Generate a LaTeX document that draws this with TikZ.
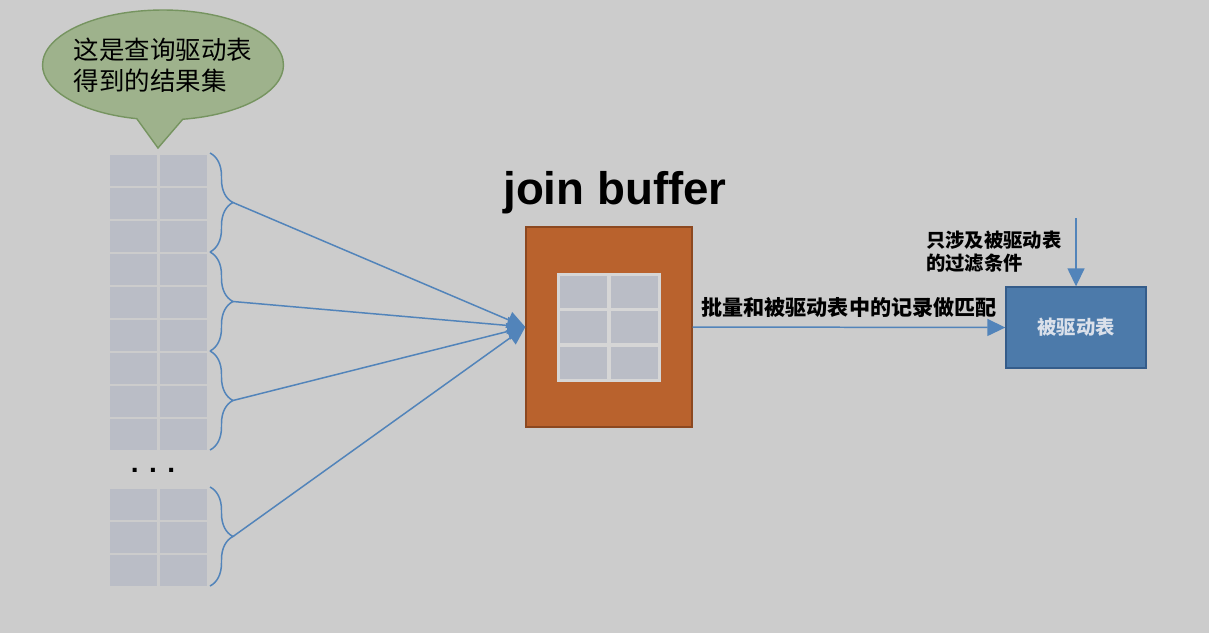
\documentclass[tikz,border=0pt]{standalone}
\usepackage{fontspec}
\setmainfont{Liberation Sans}
\newfontfamily\cjk{Noto Sans CJK SC}
\usetikzlibrary{shapes,shapes.callouts,positioning,arrows.meta,decorations.pathreplacing}

\definecolor{bggray}{RGB}{204,204,204}
\definecolor{cellgray}{RGB}{186,189,198}
\definecolor{gridlight}{RGB}{214,214,214}
\definecolor{lineblue}{RGB}{82,132,186}
\definecolor{bubblegreen}{RGB}{158,178,140}
\definecolor{bubbleline}{RGB}{118,148,96}
\definecolor{bufferorange}{RGB}{185,98,45}
\definecolor{bufferedge}{RGB}{140,72,32}
\definecolor{tableblue}{RGB}{76,122,170}
\definecolor{tableedge}{RGB}{52,92,138}
\definecolor{tabletext}{RGB}{218,224,234}

\begin{document}
\begin{tikzpicture}[x=0.02cm, y=-0.02cm, node distance=1cm, auto]

\tikzstyle{celle}=[fill=cellgray]
\tikzstyle{pil}=[-{Triangle[length=0.36cm, width=0.34cm]}, draw=lineblue, fill=lineblue, line width=0.85pt]
\tikzstyle{klamme}=[draw=lineblue, line width=0.85pt, decorate, decoration={brace, amplitude=0.46cm}]
\tikzstyle{boble}=[ellipse callout, draw=bubbleline, fill=bubblegreen, line width=0.8pt, minimum width=4.82cm, minimum height=2.2cm, callout pointer arc=22]

\fill[bggray] (0,0) rectangle (1209,633);
\useasboundingbox (0,0) rectangle (1209,633);

% result set of the driving table
\coordinate (bubbletip) at (158,148);
\node[boble, callout absolute pointer=(bubbletip)] (bubble) at (163,65) {};
\node[align=left, font=\cjk\fontsize{14.5}{17.5}\selectfont] (bubbletext) at (bubble.center) {这是查询驱动表\\得到的结果集};

\foreach \g/\y in {0/155, 1/254, 2/353, 3/489} {
  \foreach \r in {0,1,2} {
    \fill[celle] (110, \y+33*\r) rectangle +(47, 30.5);
    \fill[celle] (160, \y+33*\r) rectangle +(47, 30.5);
  }
  \draw[klamme] (210, \y-2) -- (210, \y+97);
  \coordinate (spitze\g) at (233, \y+47.5);
}
\node[font=\bfseries\fontsize{16}{16}\selectfont] (dots) at (153,470) {. . .};

% join buffer
\node[draw=bufferedge, fill=bufferorange, line width=0.8pt, minimum width=3.32cm, minimum height=4cm] (buffer) at (609,327) {};
\fill[gridlight] (557,273) rectangle (661,382);
\foreach \x in {560, 611} {
  \foreach \y in {276, 311, 347} {
    \fill[celle] (\x, \y) rectangle +(47, 32);
  }
}
\node[above=0.12cm of buffer, xshift=0.12cm, font=\bfseries\fontsize{26}{26}\selectfont] (title) {join buffer};

\foreach \g in {0,1,2,3} {
  \draw[pil] (spitze\g) -- (buffer.west);
}

% driven table
\node[draw=tableedge, fill=tableblue, line width=0.8pt, minimum width=2.8cm, minimum height=1.62cm, text=tabletext, font=\cjk\bfseries\fontsize{11}{11}\selectfont] (drivetab) at (1076,327.5) {被驱动表};

\draw[pil] (buffer.east) -- node[above=2pt, font=\cjk\bfseries\fontsize{12}{12}\selectfont, text=black] (matchlabel) {批量和被驱动表中的记录做匹配} (drivetab.west);

\coordinate (filterstart) at (1076,218);
\draw[pil] (filterstart) -- (drivetab.north);
\node[anchor=west, align=left, font=\cjk\bfseries\fontsize{11}{13}\selectfont] (filterlabel) at (920,252) {只涉及被驱动表\\的过滤条件};

\end{tikzpicture}
\end{document}
